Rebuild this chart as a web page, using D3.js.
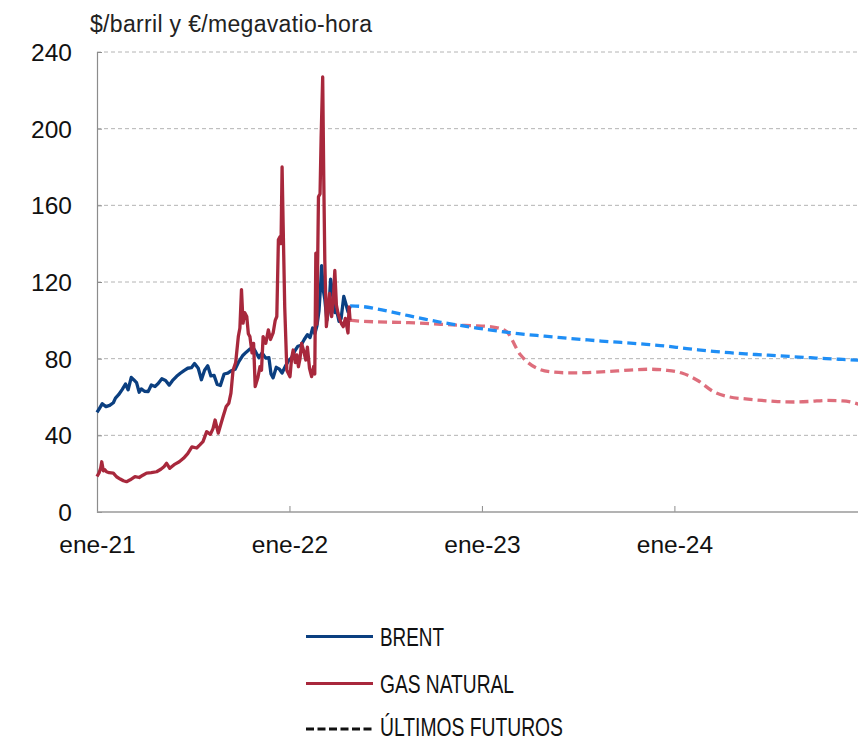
<!DOCTYPE html>
<html><head><meta charset="utf-8">
<script src="https://cdn.jsdelivr.net/npm/d3@7"></script>
<style>
html,body{margin:0;padding:0;background:#fff;}
svg{display:block;}
</style></head>
<body>
<svg id="chart" width="858" height="741"></svg>
<script>
// ---------- DATA ----------
const yTicks = [0, 40, 80, 120, 160, 200, 240];
const xTickDates = ["2021-01-01", "2022-01-01", "2023-01-01", "2024-01-01"];
const xTickLabels = ["ene-21", "ene-22", "ene-23", "ene-24"];

const brentDates = ["2021-01-01","2021-01-06","2021-01-11","2021-01-18","2021-01-25","2021-02-01","2021-02-05","2021-02-11","2021-02-18","2021-02-24",
"2021-03-01","2021-03-07","2021-03-12","2021-03-17","2021-03-22","2021-03-26","2021-04-01","2021-04-08","2021-04-14","2021-04-21",
"2021-04-27","2021-05-04","2021-05-11","2021-05-18","2021-05-24","2021-06-01","2021-06-08","2021-06-15","2021-06-22","2021-06-29",
"2021-07-05","2021-07-12","2021-07-18","2021-07-24","2021-07-30","2021-08-05","2021-08-11","2021-08-17","2021-08-23","2021-08-30",
"2021-09-06","2021-09-13","2021-09-20","2021-09-27","2021-10-04","2021-10-11","2021-10-18","2021-10-24","2021-10-29","2021-11-04",
"2021-11-10","2021-11-17","2021-11-23","2021-11-27","2021-12-01","2021-12-07","2021-12-13","2021-12-18","2021-12-24","2021-12-30",
"2022-01-05","2022-01-11","2022-01-17","2022-01-23","2022-01-29","2022-02-04","2022-02-09","2022-02-14","2022-02-18","2022-02-22",
"2022-02-26","2022-03-01","2022-03-03","2022-03-06","2022-03-09","2022-03-13","2022-03-17","2022-03-20","2022-03-24","2022-03-28",
"2022-04-01","2022-04-05","2022-04-09","2022-04-14","2022-04-18","2022-04-22","2022-04-26"];
const brentValues = [52.0,54.2,56.5,55.0,55.6,57.0,59.4,61.2,64.0,66.8,
63.8,70.2,68.9,67.5,62.5,64.2,63.0,62.8,66.3,65.5,
67.0,69.5,68.6,66.2,68.5,70.8,72.4,73.8,75.0,75.3,
77.5,75.0,69.0,74.0,76.3,71.0,71.3,66.5,66.0,72.0,
72.4,73.7,74.5,78.5,81.5,83.4,85.0,85.8,83.5,80.5,
83.0,80.3,80.5,72.0,70.0,75.5,74.5,72.5,76.0,78.8,
80.5,84.0,86.5,87.0,90.0,92.5,91.0,96.0,93.0,97.0,
105.0,118.0,128.5,116.0,111.0,100.0,107.0,121.5,114.0,104.0,
104.5,99.5,101.0,112.5,108.5,104.5,107.0];

const gasDates = ["2021-01-01","2021-01-05","2021-01-08","2021-01-10","2021-01-13","2021-01-16","2021-01-19","2021-01-24","2021-02-01","2021-02-07",
"2021-02-14","2021-02-20","2021-02-26","2021-03-05","2021-03-14","2021-03-22","2021-03-29","2021-04-05","2021-04-14","2021-04-24",
"2021-05-02","2021-05-08","2021-05-13","2021-05-19","2021-05-29","2021-06-06","2021-06-14","2021-06-22","2021-06-30","2021-07-09",
"2021-07-15","2021-07-21","2021-07-28","2021-08-04","2021-08-09","2021-08-13","2021-08-19","2021-08-23","2021-08-28","2021-09-03",
"2021-09-08","2021-09-12","2021-09-16","2021-09-21","2021-09-26","2021-09-29","2021-10-02","2021-10-05","2021-10-08","2021-10-12",
"2021-10-15","2021-10-18","2021-10-22","2021-10-25","2021-10-28","2021-11-02","2021-11-06","2021-11-09","2021-11-12","2021-11-17",
"2021-11-22","2021-11-26","2021-12-01","2021-12-05","2021-12-08","2021-12-11","2021-12-14","2021-12-16","2021-12-18","2021-12-20",
"2021-12-23","2021-12-27","2022-01-02","2022-01-05","2022-01-08","2022-01-12","2022-01-15","2022-01-18","2022-01-21","2022-01-24",
"2022-01-28","2022-02-01","2022-02-04","2022-02-08","2022-02-12","2022-02-16","2022-02-18","2022-02-20","2022-02-22","2022-02-25",
"2022-02-28","2022-03-02","2022-03-05","2022-03-07","2022-03-09","2022-03-12","2022-03-15","2022-03-18","2022-03-22","2022-03-25",
"2022-03-28","2022-03-31","2022-04-03","2022-04-07","2022-04-10","2022-04-13","2022-04-17","2022-04-22","2022-04-24","2022-04-26"];
const gasValues = [18.5,20.5,23.0,26.2,21.5,22.0,21.0,20.5,20.3,18.4,
17.2,16.3,15.8,16.8,18.4,18.0,19.2,20.3,20.5,21.0,
22.3,23.6,25.4,22.8,25.0,26.2,28.0,30.5,34.0,33.4,
35.0,36.7,41.9,40.5,43.5,48.0,41.2,45.0,49.7,55.0,
56.8,62.0,74.0,78.0,91.5,96.0,116.0,98.5,104.0,102.0,
93.0,91.5,83.0,88.0,65.4,70.0,75.8,74.0,91.5,88.0,
95.0,90.0,93.4,100.0,102.0,142.0,143.6,140.0,180.0,150.0,
107.0,74.0,70.6,80.0,84.5,78.0,82.0,75.8,80.0,88.0,
84.0,79.3,86.0,75.0,70.6,76.0,72.0,135.0,98.0,164.5,
166.0,195.0,227.0,175.0,131.5,96.7,105.0,114.0,102.0,110.0,
126.0,108.0,103.8,100.0,98.0,96.7,101.0,93.4,107.0,100.0];

const futuresDates = ["2022-04-26","2022-05-15","2022-06-15","2022-07-15","2022-08-15","2022-09-15","2022-10-15","2022-11-15","2022-12-15",
"2023-01-15","2023-02-15","2023-03-15","2023-04-15","2023-05-15","2023-06-15","2023-07-15","2023-08-15","2023-09-15","2023-10-15","2023-11-15","2023-12-15",
"2024-01-15","2024-02-15","2024-03-15","2024-04-15","2024-05-15","2024-06-15","2024-07-15","2024-08-15","2024-09-15","2024-10-15","2024-11-15","2024-12-15"];
const brentFutures = [107.5,107.3,106.0,104.3,102.4,100.6,99.0,97.6,96.3,
95.0,93.9,92.9,92.1,91.4,90.6,89.9,89.2,88.6,88.0,87.3,86.6,
85.6,84.6,83.8,83.1,82.5,82.0,81.5,81.0,80.5,80.0,79.6,79.2];
const gasFutures = [100.0,99.6,99.2,99.0,98.8,98.4,97.9,97.5,97.2,
96.8,94.5,82.0,75.0,73.0,72.6,72.7,73.1,73.6,74.2,74.5,74.0,
72.5,68.5,62.8,60.0,59.0,58.2,57.6,57.4,57.7,58.2,58.0,56.3];

const legendLabels = ["BRENT", "GAS NATURAL", "ÚLTIMOS FUTUROS"];

// ---------- CHART ----------
(function () {
const parse = d3.timeParse("%Y-%m-%d");
const svg = d3.select("#chart");
const mLeft = 97, mTop = 52, mBottom = 512, plotRight = 858;

const x = d3.scaleTime().domain([parse("2021-01-01"), parse("2025-01-01")]).range([mLeft, 867.4]);
const y = d3.scaleLinear().domain([0, 240]).range([mBottom, mTop]);

const font = "'Liberation Sans', Arial, Helvetica, sans-serif";

// gridlines
svg.append("g").selectAll("line").data(yTicks.filter(v => v > 0)).join("line")
  .attr("x1", mLeft).attr("x2", plotRight)
  .attr("y1", d => y(d)).attr("y2", d => y(d))
  .attr("stroke", "#b4b4b4").attr("stroke-width", 1).attr("stroke-dasharray", "4,3");

// y axis
const yAxis = d3.axisLeft(y).tickValues(yTicks).tickSize(-5).tickPadding(25).tickFormat(d3.format("d"));
const gy = svg.append("g").attr("transform", `translate(${mLeft},0)`).call(yAxis);
gy.select(".domain").attr("stroke", "#8c8c8c").attr("stroke-width", 1.2);
gy.selectAll(".tick line").attr("stroke", "#8c8c8c");
gy.selectAll(".tick text").attr("font-family", font).attr("font-size", 24.5).attr("fill", "#111").attr("dy", "0.35em");

// x axis
const xAxis = d3.axisBottom(x).tickValues(xTickDates.map(parse)).tickSize(-6).tickPadding(0)
  .tickFormat((d, i) => xTickLabels[i]);
const gx = svg.append("g").attr("transform", `translate(0,${mBottom})`).call(xAxis);
gx.select(".domain").remove();
gx.append("line").attr("x1", mLeft).attr("x2", plotRight).attr("y1", 0).attr("y2", 0)
  .attr("stroke", "#9a9a9a").attr("stroke-width", 1.3);
gx.selectAll(".tick line").attr("stroke", "#8c8c8c");
gx.selectAll(".tick text").attr("font-family", font).attr("font-size", 24.5).attr("fill", "#111")
  .attr("y", 41).attr("dy", 0);

// unit title
svg.append("text").attr("x", 90).attr("y", 31.5).attr("font-family", font).attr("font-size", 23)
  .attr("fill", "#222").attr("textLength", 282).attr("lengthAdjust", "spacing")
  .text("$/barril y €/megavatio-hora");

// lines
const line = d3.line().x(d => x(d[0])).y(d => y(d[1]));
const smooth = d3.line().x(d => x(d[0])).y(d => y(d[1])).curve(d3.curveMonotoneX);
const zip = (ds, vs) => ds.map((d, i) => [parse(d), vs[i]]);

const plot = svg.append("g");
plot.append("path").datum(zip(futuresDates, gasFutures)).attr("d", smooth)
  .attr("fill", "none").attr("stroke", "#de6e7c").attr("stroke-width", 3.3).attr("stroke-dasharray", "9,5");
plot.append("path").datum(zip(futuresDates, brentFutures)).attr("d", smooth)
  .attr("fill", "none").attr("stroke", "#1f8ef5").attr("stroke-width", 3.3).attr("stroke-dasharray", "9,5");
plot.append("path").datum(zip(brentDates, brentValues)).attr("d", line)
  .attr("fill", "none").attr("stroke", "#0b3f80").attr("stroke-width", 3.3).attr("stroke-linejoin", "round");
plot.append("path").datum(zip(gasDates, gasValues)).attr("d", line)
  .attr("fill", "none").attr("stroke", "#a8283c").attr("stroke-width", 3.3).attr("stroke-linejoin", "round");

// legend
const legFont = "'Liberation Sans Narrow', 'Arial Narrow', 'Liberation Sans', sans-serif";
const legY = [636.5, 683.5, 729];
const legText = [646, 693, 735.5];
const legSize = [26, 26, 25];
const legStroke = ["#0b3f80", "#a8283c", "#111"];
const legDash = [null, null, "8,3.5"];
const legWidth = [64, 134, 183];
const leg = svg.append("g");
legendLabels.forEach((lab, i) => {
  leg.append("line").attr("x1", 306).attr("x2", 373).attr("y1", legY[i]).attr("y2", legY[i])
    .attr("stroke", legStroke[i]).attr("stroke-width", 3).attr("stroke-dasharray", legDash[i]);
  leg.append("text").attr("x", 380).attr("y", legText[i]).attr("font-family", legFont)
    .attr("font-size", legSize[i]).attr("fill", "#111")
    .attr("textLength", legWidth[i]).attr("lengthAdjust", "spacingAndGlyphs").text(lab);
});
})();
</script>
</body></html>
